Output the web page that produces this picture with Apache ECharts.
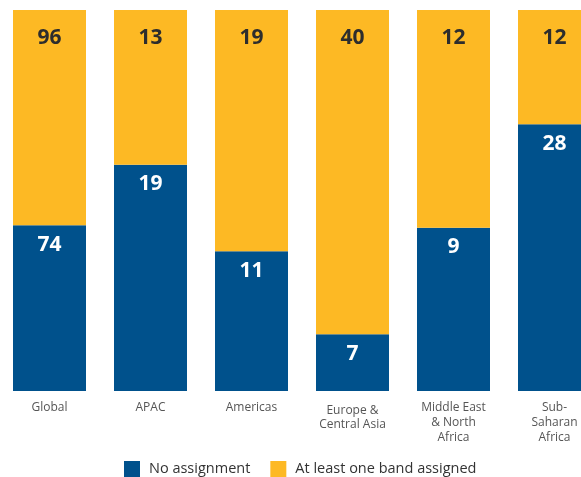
<!DOCTYPE html>
<html><head><meta charset="utf-8">
<script src="https://cdn.jsdelivr.net/npm/echarts@6/dist/echarts.min.js"></script>
<style>html,body{margin:0;padding:0;background:#fff}#c{width:581px;height:477px}</style>
</head><body><div id="c"></div>
<script>
var categories = ['Global', 'APAC', 'Americas', 'Europe &\nCentral Asia', 'Middle East\n& North\nAfrica', 'Sub-\nSaharan\nAfrica'];
var noAssignment = [74, 19, 11, 7, 9, 28];
var atLeastOne = [96, 13, 19, 40, 12, 12];
var seriesNames = ['No assignment', 'At least one band assigned'];

var font = 'Open Sans';
var totals = noAssignment.map(function (v, i) { return v + atLeastOne[i]; });
function pct(arr) { return arr.map(function (v, i) { return { value: v / totals[i] * 100, raw: v }; }); }
var catData = categories.map(function (c, i) {
  return i === 3 ? { value: c, textStyle: { padding: [4, 0, 0, 0], lineHeight: 14, fontSize: 12, fontFamily: font, color: '#555' } } : c;
});

var chart = echarts.init(document.getElementById('c'));
chart.setOption({
  animation: false,
  textStyle: { fontFamily: font },
  grid: { left: -1, width: 606, top: 10, bottom: 86, outerBoundsMode: 'none', containLabel: false },
  legend: {
    left: 119, top: 456, itemWidth: 16, itemHeight: 16, itemGap: 20,
    icon: 'rect',
    textStyle: { fontSize: 14.5, color: '#333', fontFamily: font, padding: [0, 0, 0, 4] },
    data: seriesNames
  },
  xAxis: {
    type: 'category', data: catData,
    axisLine: { show: false }, axisTick: { show: false },
    axisLabel: { interval: 0, margin: 9, fontSize: 12, lineHeight: 15, color: '#555', fontFamily: font }
  },
  yAxis: { type: 'value', min: 0, max: 100, show: false, splitLine: { show: false } },
  series: [
    {
      name: seriesNames[0], type: 'bar', stack: 's', barWidth: 73,
      itemStyle: { color: '#00518C' },
      data: pct(noAssignment),
      label: {
        show: true, position: 'insideTop', distance: 9,
        fontSize: 21, fontWeight: 'bold', color: '#fff', fontFamily: font,
        formatter: function (p) { return p.data.raw; }
      }
    },
    {
      name: seriesNames[1], type: 'bar', stack: 's', barWidth: 73,
      itemStyle: { color: '#FDB924' },
      data: pct(atLeastOne),
      label: {
        show: true, position: 'insideTop', distance: 18,
        fontSize: 21, fontWeight: 'bold', color: '#2d2d2d', fontFamily: font,
        formatter: function (p) { return p.data.raw; }
      }
    }
  ]
});
</script></body></html>
